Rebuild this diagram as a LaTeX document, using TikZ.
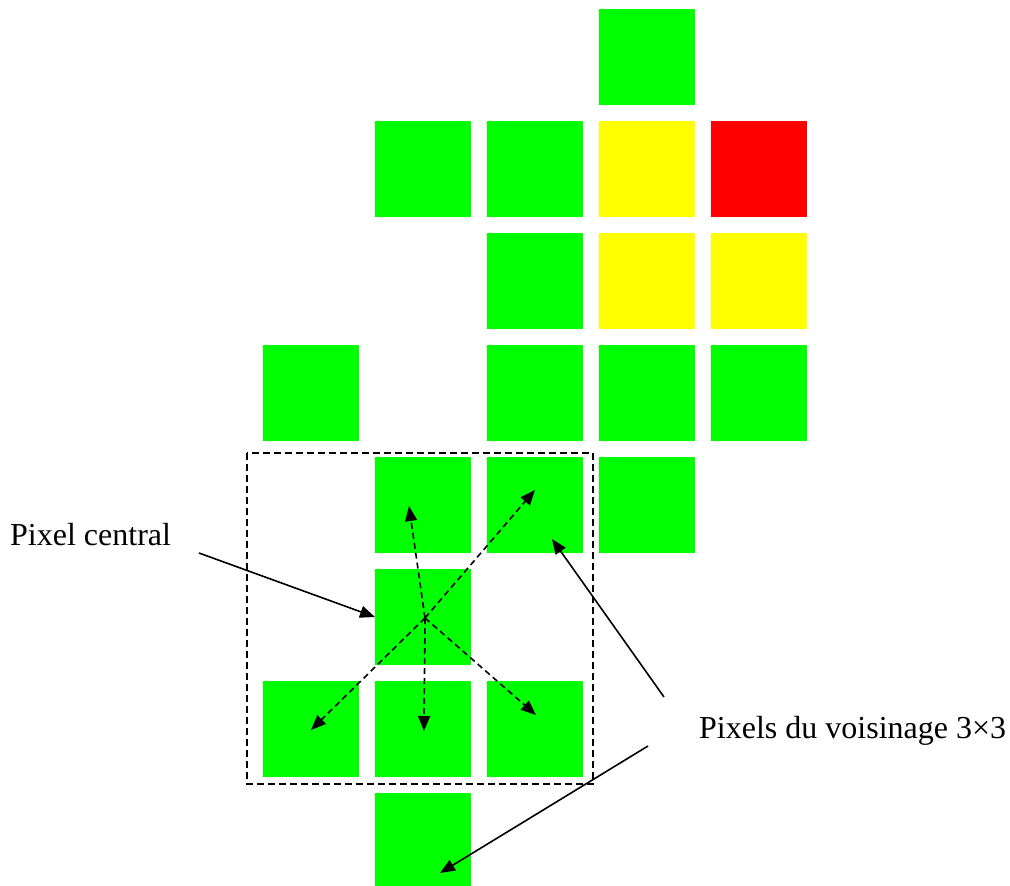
\documentclass[tikz,border=0pt]{standalone}
\usepackage{fontspec}
\setmainfont{Liberation Serif}
\usetikzlibrary{arrows.meta}
\definecolor{pxgreen}{HTML}{00FF00}
\definecolor{pxyellow}{HTML}{FFFF00}
\definecolor{pxred}{HTML}{FF0000}
\tikzset{
  px/.style={minimum size=96pt, inner sep=0pt, outer sep=0pt, fill=#1},
  lbl/.style={font=\fontsize{32pt}{36pt}\selectfont, inner sep=0pt, anchor=base west},
  pointer/.style={line width=1.6pt, -{Triangle[length=15pt,width=12pt]}},
  neigh/.style={line width=1.6pt, dash pattern=on 6pt off 4pt, -{Triangle[length=15pt,width=12pt]}},
  frame/.style={line width=1.6pt, dash pattern=on 7pt off 4pt}
}
\begin{document}
\begin{tikzpicture}[x=1pt,y=-1pt]
\clip (0,0) rectangle (1010,886);
\fill[white] (0,0) rectangle (1010,886);
% row 0
\node[px=pxgreen] (r0c3) at (647,57) {};
% row 1
\node[px=pxgreen] (r1c1) at (423,169) {};
\node[px=pxgreen] (r1c2) at (535,169) {};
\node[px=pxyellow] (r1c3) at (647,169) {};
\node[px=pxred] (r1c4) at (759,169) {};
% row 2
\node[px=pxgreen] (r2c2) at (535,281) {};
\node[px=pxyellow] (r2c3) at (647,281) {};
\node[px=pxyellow] (r2c4) at (759,281) {};
% row 3
\node[px=pxgreen] (r3c0) at (311,393) {};
\node[px=pxgreen] (r3c2) at (535,393) {};
\node[px=pxgreen] (r3c3) at (647,393) {};
\node[px=pxgreen] (r3c4) at (759,393) {};
% row 4
\node[px=pxgreen] (r4c1) at (423,505) {};
\node[px=pxgreen] (r4c2) at (535,505) {};
\node[px=pxgreen] (r4c3) at (647,505) {};
% row 5
\node[px=pxgreen] (center) at (423,617) {};
% row 6
\node[px=pxgreen] (r6c0) at (311,729) {};
\node[px=pxgreen] (r6c1) at (423,729) {};
\node[px=pxgreen] (r6c2) at (535,729) {};
% row 7
\node[px=pxgreen] (r7c1) at (423,841) {};

% dashed neighbourhood frame
\coordinate (fnw) at (247,453);
\coordinate (fse) at (593,784);
\draw[frame] (fnw) rectangle (fse);

% neighbourhood arrows
\coordinate (o) at (425,618);
\coordinate (tu) at (409,506);
\coordinate (tur) at (535,490);
\coordinate (tdl) at (311,730);
\coordinate (td) at (424,731);
\coordinate (tdr) at (536,715);
\draw[neigh] (o) -- (tu);
\draw[neigh] (o) -- (tur);
\draw[neigh] (o) -- (tdl);
\draw[neigh] (o) -- (td);
\draw[neigh] (o) -- (tdr);

% labels
\node[lbl] (lcentral) at (10,545) {Pixel central};
\node[lbl] (lvois) at (699,738) {Pixels du voisinage 3×3};

% pointers
\coordinate (s1) at (199,553);
\coordinate (s2) at (664,697);
\coordinate (s3) at (648,746);
\coordinate (t2) at (552,539);
\coordinate (t3) at (440,873);
\draw[pointer] (s1) -- (center.west);
\draw[pointer] (s2) -- (t2);
\draw[pointer] (s3) -- (t3);
\end{tikzpicture}
\end{document}
